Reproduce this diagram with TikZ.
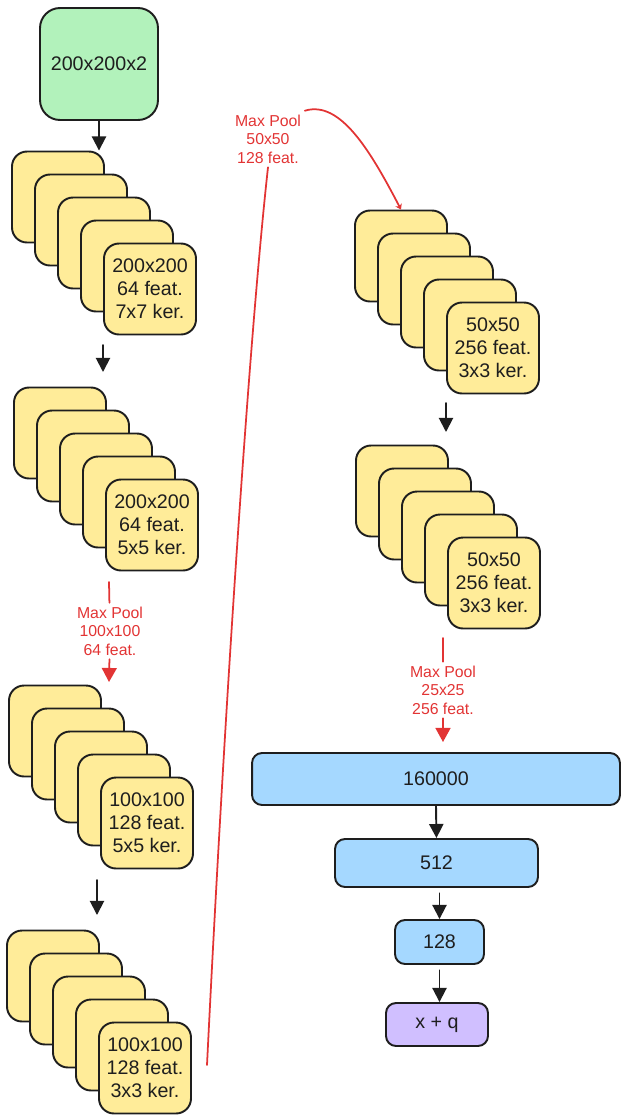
\documentclass[tikz,border=0pt]{standalone}
\usepackage{fontspec}
\setmainfont{Liberation Sans}
\usepackage{xcolor}
\usetikzlibrary{arrows.meta,calc}
\definecolor{inputgreen}{RGB}{178,242,187}
\definecolor{featyellow}{RGB}{255,236,153}
\definecolor{denseblue}{RGB}{165,216,255}
\definecolor{outpurple}{RGB}{208,191,255}
\definecolor{poolred}{RGB}{226,52,52}
\definecolor{edgegray}{RGB}{30,30,30}

\begin{document}
\begin{tikzpicture}[line cap=round,line join=round,x=0.02cm,y=-0.02cm,
    box/.style={draw=edgegray,line width=1.1pt,rounded corners=0.3cm,align=center,text=edgegray,font=\fontsize{11.2}{13}\selectfont,inner sep=0pt},
    card/.style={box,fill=featyellow,minimum width=1.84cm,minimum height=1.82cm},
    dense/.style={box,fill=denseblue,rounded corners=0.2cm},
    arr/.style={-{Triangle[length=8pt,width=8pt]},line width=1.1pt,draw=edgegray},
    pool/.style={draw=poolred,line width=1pt},
    poolarr/.style={pool,-{Triangle[length=8pt,width=8.5pt]}},
    poollabel/.style={text=poolred,align=center,font=\fontsize{9}{10.6}\selectfont,inner sep=2pt}]
    \useasboundingbox (0,0) rectangle (621,1117);
    \node[box,fill=inputgreen,rounded corners=0.4cm,minimum width=2.36cm,minimum height=2.24cm] (input) at (99,64) {200x200x2};
    \foreach \i in {0,...,3} \node[card] (sa-\i) at (58+23*\i,197+23*\i) {};
    \node[card] (sa-4) at (150,289) {200x200\\64 feat.\\7x7 ker.};
    \foreach \i in {0,...,3} \node[card] (sb-\i) at (60+23*\i,433+23*\i) {};
    \node[card] (sb-4) at (152,525) {200x200\\64 feat.\\5x5 ker.};
    \foreach \i in {0,...,3} \node[card] (sc-\i) at (55+23*\i,731+23*\i) {};
    \node[card] (sc-4) at (147,823) {100x100\\128 feat.\\5x5 ker.};
    \foreach \i in {0,...,3} \node[card] (sd-\i) at (53+23*\i,976+23*\i) {};
    \node[card] (sd-4) at (145,1068) {100x100\\128 feat.\\3x3 ker.};
    \foreach \i in {0,...,3} \node[card] (se-\i) at (401+23*\i,256+23*\i) {};
    \node[card] (se-4) at (493,348) {50x50\\256 feat.\\3x3 ker.};
    \foreach \i in {0,...,3} \node[card] (sf-\i) at (402+23*\i,491+23*\i) {};
    \node[card] (sf-4) at (494,583) {50x50\\256 feat.\\3x3 ker.};
    \node[dense,minimum width=7.36cm,minimum height=1.04cm] (fc1) at (436,779) {160000};
    \node[dense,minimum width=4.06cm,minimum height=0.96cm] (fc2) at (436.5,863) {512};
    \node[dense,minimum width=1.78cm,minimum height=0.88cm] (fc3) at (439.5,942) {128};
    \node[box,fill=outpurple,rounded corners=0.2cm,minimum width=2.04cm,minimum height=0.86cm] (out) at (437,1024.5) {x + q};
    \node[poollabel] (poola) at (110,631) {Max Pool\\100x100\\64 feat.};
    \node[poollabel] (poolb) at (268,139) {Max Pool\\50x50\\128 feat.};
    \node[poollabel] (poolc) at (443,690) {Max Pool\\25x25\\256 feat.};
    \coordinate (ab1) at (103,345);
    \coordinate (ab2) at (103,372);
    \coordinate (bc1) at (109,582);
    \coordinate (bc2) at (109,682);
    \coordinate (cd1) at (97,880);
    \coordinate (cd2) at (97,915);
    \coordinate (de1) at (207,1065);
    \coordinate (ef1) at (446,403);
    \coordinate (ef2) at (446,432);
    \coordinate (fg1) at (443,638);
    \coordinate (fg2) at (443,742);
    \draw[arr] (input.south) -- (input.south |- sa-0.north);
    \draw[arr] (ab1) -- (ab2);
    \draw[pool] (bc1) -- (poola);
    \draw[poolarr] (poola) -- (bc2);
    \draw[arr] (cd1) -- (cd2);
    \draw[pool] (de1) .. controls (225,700) and (250,330) .. (poolb.south);
    \draw[pool,-{Stealth[length=3pt,width=4pt]}] (poolb.north east) .. controls (340,100) and (370,150) .. (se-0.north);
    \draw[arr] (ef1) -- (ef2);
    \draw[pool] (fg1) -- (poolc);
    \draw[poolarr] (poolc) -- (fg2);
    \draw[arr] (fc1.south) -- (fc2.north);
    \draw[arr,shorten <=3pt] (fc2.south -| fc3) -- (fc3.north);
    \draw[arr,shorten <=3pt] (fc3.south) -- (fc3.south |- out.north);
\end{tikzpicture}
\end{document}
